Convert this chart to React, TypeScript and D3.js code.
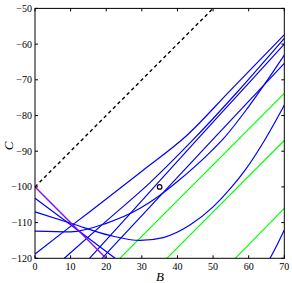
import React from "react";
import * as d3 from "d3";

const xTicks = [0, 10, 20, 30, 40, 50, 60, 70];
const yTicks = [-120, -110, -100, -90, -80, -70, -60, -50];
const dashed: [number, number][] = [[0, -100], [50, -50]];
const magenta: [number, number][] = [[0, -100], [20, -120]];
const greens: [number, number][][] = [
  [[23.8, -120], [70, -73.8]],
  [[37, -120], [70, -87]],
  [[56.2, -120], [70, -106]],
];
const blueUnderMagenta: [number, number][] = [[0, -100], [20, -120]];
const blueDescending: [number, number][] = [[0, -103.2], [10, -110.6], [22.5, -120]];
const blueShallow: [number, number][] = [
  [0, -107], [10.7, -110.4], [21, -113.6], [29.5, -115], [36, -114.2], [43.5, -110.7],
  [50, -105.6], [55, -100.3], [59, -95.3], [64.3, -87.2], [70, -77.1],
];
const blueLowMin: [number, number][] = [
  [0, -112.4], [10, -112.6], [20, -110.2], [29.5, -106], [35, -102.4], [40, -98.5],
  [50, -89.5], [52.9, -86.5], [60, -77.5], [70, -63.1],
];
const blueBundleA: [number, number][] = [
  [0, -118.8], [10.7, -110.5], [20, -103.4], [30, -95.6], [42.6, -85.6], [55, -72.8], [70, -57.4],
];
const blueBundleB: [number, number][] = [
  [8.2, -120], [20, -109.6], [32.3, -98.8], [44, -87.2], [57, -73.2], [70, -58.4],
];
const blueBundleC: [number, number][] = [
  [15.3, -120], [25, -109.4], [35, -98.3], [45, -87.3], [57, -74.2], [70, -60],
];
const blueStraight: [number, number][] = [[18.8, -120], [33, -104.8], [48.7, -88], [70, -65.4]];
const blueRightLow: [number, number][] = [[66, -120], [68, -116.2], [70, -112.1]];
const blues = [blueUnderMagenta, blueDescending, blueShallow, blueLowMin, blueBundleA, blueBundleB, blueBundleC, blueStraight, blueRightLow];
const circlePt: [number, number] = [35, -100];

export default function App() {
  const W = 292, H = 283;
  const x = d3.scaleLinear().domain([0, 70]).range([35, 284.3]);
  const y = d3.scaleLinear().domain([-120, -50]).range([258.3, 8.4]);
  const line = d3.line<[number, number]>().x(d => x(d[0])).y(d => y(d[1])).curve(d3.curveMonotoneX);
  const font = "'Liberation Serif', 'DejaVu Serif', serif";
  return (
    <svg width={W} height={H} style={{ position: "absolute", left: 0, top: 0, background: "#fff" }}>
      <defs>
        <clipPath id="clip"><rect x={35} y={8.4} width={249.3} height={249.9} /></clipPath>
      </defs>
      <g clipPath="url(#clip)" fill="none">
        {greens.map((g, i) => <path key={"g" + i} d={line(g) || ""} stroke="#00ff00" strokeWidth={1.2} />)}
        {blues.map((b, i) => <path key={"b" + i} d={line(b) || ""} stroke="#0000ff" strokeWidth={1.2} />)}
        <path d={line(magenta) || ""} stroke="#ff00ff" strokeWidth={1.2} strokeOpacity={0.6} />
        <path d={line(dashed) || ""} stroke="#000" strokeWidth={1.4} strokeDasharray="3.5,3" />
        <circle cx={x(circlePt[0])} cy={y(circlePt[1])} r={2.3} stroke="#000" strokeWidth={1.2} />
      </g>
      <rect x={35} y={8.4} width={249.3} height={249.9} fill="none" stroke="#000" strokeWidth={1} />
      {xTicks.map(t => (
        <g key={"x" + t}>
          <line x1={x(t)} x2={x(t)} y1={258.3} y2={255.3} stroke="#000" />
          <line x1={x(t)} x2={x(t)} y1={8.4} y2={11.4} stroke="#000" />
          <text x={x(t)} y={270} textAnchor="middle" fontSize={10} fontFamily={font}>{t}</text>
        </g>
      ))}
      {yTicks.map(t => (
        <g key={"y" + t}>
          <line x1={35} x2={38} y1={y(t)} y2={y(t)} stroke="#000" />
          <line x1={284.3} x2={281.3} y1={y(t)} y2={y(t)} stroke="#000" />
          <text x={32} y={y(t) + 3.5} textAnchor="end" fontSize={10} fontFamily={font}>{String(t).replace("-", "\u2212")}</text>
        </g>
      ))}
      <text x={160} y={281} textAnchor="middle" fontSize={13} fontStyle="italic" fontFamily={font}>B</text>
      <text transform="translate(13,146) rotate(-90)" textAnchor="middle" fontSize={13} fontStyle="italic" fontFamily={font}>C</text>
    </svg>
  );
}
